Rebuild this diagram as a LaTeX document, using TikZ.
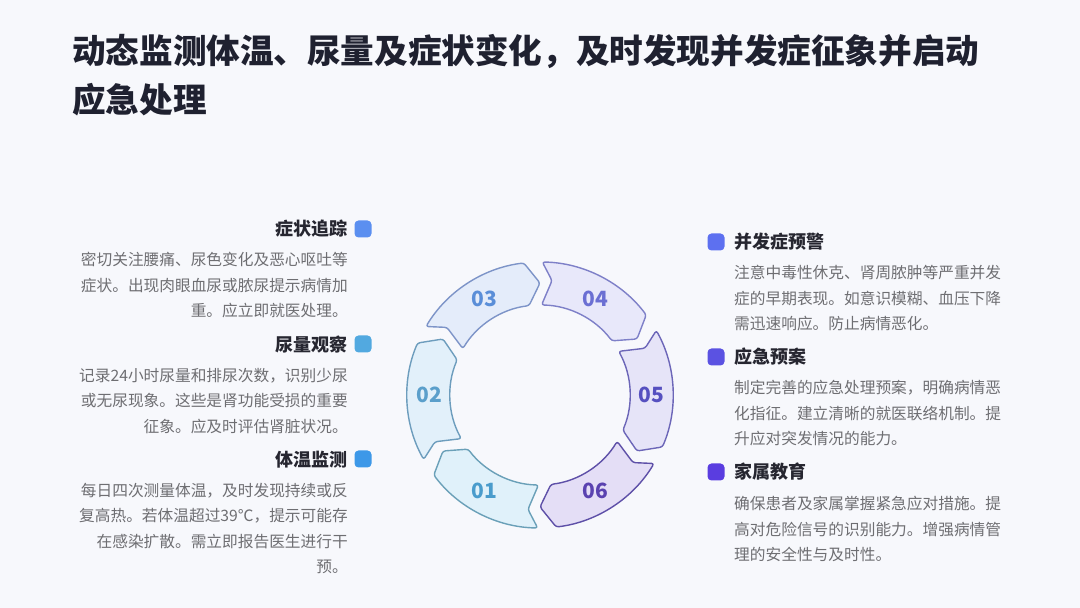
\documentclass[tikz,border=0pt]{standalone}
\usepackage{fontspec}
\setmainfont{Noto Sans CJK SC}
\definecolor{bg}{HTML}{F7F8FC}
\definecolor{titlec}{HTML}{1F2130}
\definecolor{headc}{HTML}{262630}
\definecolor{bodyc}{HTML}{6E6E72}
\definecolor{f1}{HTML}{E0F1FA}\definecolor{d1}{HTML}{6AA0B8}\definecolor{t1}{HTML}{4A9CCC}
\definecolor{f2}{HTML}{E2F0FA}\definecolor{d2}{HTML}{6D9DBD}\definecolor{t2}{HTML}{5B9FCB}
\definecolor{f3}{HTML}{E4ECFA}\definecolor{d3}{HTML}{7D94C8}\definecolor{t3}{HTML}{5A8ED8}
\definecolor{f4}{HTML}{E8E8FA}\definecolor{d4}{HTML}{7E80C8}\definecolor{t4}{HTML}{6B6FD3}
\definecolor{f5}{HTML}{E6E4F8}\definecolor{d5}{HTML}{6C66B8}\definecolor{t5}{HTML}{5650C0}
\definecolor{f6}{HTML}{E4DEF6}\definecolor{d6}{HTML}{5E50A8}\definecolor{t6}{HTML}{5A42B0}
\definecolor{sqA}{HTML}{5B8FF0}
\definecolor{sqB}{HTML}{52A9E0}
\definecolor{sqC}{HTML}{3D98E8}
\definecolor{sqD}{HTML}{5D70F0}
\definecolor{sqE}{HTML}{5B52E2}
\definecolor{sqF}{HTML}{5A3DE0}
\begin{document}
\begin{tikzpicture}[x=1pt,y=1pt,
  seg/.style={line width=1.4pt, rounded corners=2.5pt, line join=round},
  num/.style={font=\fontsize{21}{21}\selectfont\bfseries, inner sep=0},
  sq/.style={minimum size=17pt, inner sep=0, rounded corners=4pt},
  sectitle/.style={font=\fontsize{18}{18}\selectfont\bfseries, text=headc, inner sep=0},
  body/.style={font=\fontsize{15.7}{25.5}\selectfont, text=bodyc, inner sep=0},
  maintitle/.style={font=\fontsize{33.6}{48}\selectfont\bfseries, text=titlec, inner sep=0, anchor=west}
]
\fill[bg] (0,0) rectangle (1080,608);
\useasboundingbox (0,0) rectangle (1080,608);

% main title
\node[maintitle] (title1) at (72,556) {动态监测体温、尿量及症状变化，及时发现并发症征象并启动};
\node[maintitle] (title2) at (72,508) {应急处理};

% ring
\begin{scope}[shift={(540,213)}]
\foreach \i/\th/\fc/\dc/\tc in {1/240/f1/d1/t1, 2/180/f2/d2/t2, 3/120/f3/d3/t3, 4/60/f4/d4/t4, 5/0/f5/d5/t5, 6/-60/f6/d6/t6}{
  \filldraw[seg, fill=\fc, draw=\dc] ({\th+29}:133) arc[start angle={\th+29}, end angle={\th-23}, radius=133]
     -- ({\th-30}:112) -- ({\th-23}:90) arc[start angle={\th-23}, end angle={\th+29}, radius=90]
     -- ({\th+24}:115) -- cycle;
  \node[num, text=\tc] (n\i) at (\th:111) {0\i};
}
\end{scope}

% left column
\node[sq, fill=sqA] (sq1) at (363,379) {};
\node[sectitle, anchor=east] (h1) at (348,379) {症状追踪};
\node[body, anchor=north east, align=right] (b1) at (348,356) {密切关注腰痛、尿色变化及恶心呕吐等\\症状。出现肉眼血尿或脓尿提示病情加\\重。应立即就医处理。};

\node[sq, fill=sqB] (sq2) at (363,264) {};
\node[sectitle, anchor=east] (h2) at (348,263) {尿量观察};
\node[body, anchor=north east, align=right] (b2) at (348,240) {记录24小时尿量和排尿次数，识别少尿\\或无尿现象。这些是肾功能受损的重要\\征象。应及时评估肾脏状况。};

\node[sq, fill=sqC] (sq3) at (363,149) {};
\node[sectitle, anchor=east] (h3) at (348,148) {体温监测};
\node[body, anchor=north east, align=right] (b3) at (348,125) {每日四次测量体温，及时发现持续或反\\复高热。若体温超过39℃，提示可能存\\在感染扩散。需立即报告医生进行干\\预。};

% right column
\node[sq, fill=sqD] (sq4) at (716,366) {};
\node[sectitle, anchor=west] (h4) at (734,366) {并发症预警};
\node[body, anchor=north west, align=left] (b4) at (734,343) {注意中毒性休克、肾周脓肿等严重并发\\症的早期表现。如意识模糊、血压下降\\需迅速响应。防止病情恶化。};

\node[sq, fill=sqE] (sq5) at (716,251) {};
\node[sectitle, anchor=west] (h5) at (734,251) {应急预案};
\node[body, anchor=north west, align=left] (b5) at (734,228) {制定完善的应急处理预案，明确病情恶\\化指征。建立清晰的就医联络机制。提\\升应对突发情况的能力。};

\node[sq, fill=sqF] (sq6) at (716,136) {};
\node[sectitle, anchor=west] (h6) at (734,136) {家属教育};
\node[body, anchor=north west, align=left] (b6) at (734,112) {确保患者及家属掌握紧急应对措施。提\\高对危险信号的识别能力。增强病情管\\理的安全性与及时性。};
\end{tikzpicture}
\end{document}
